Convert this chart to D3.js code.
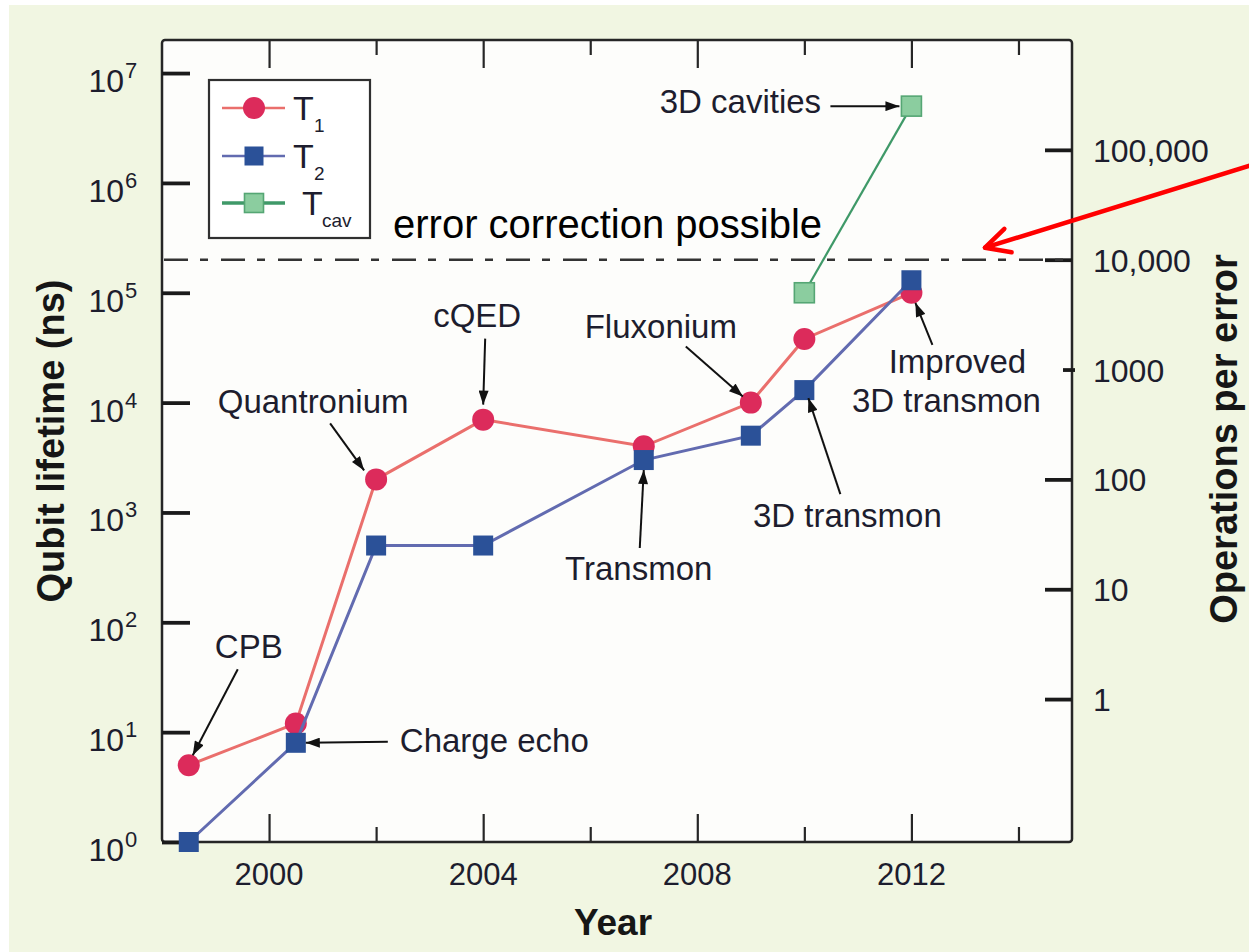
<!DOCTYPE html>
<html>
<head>
<meta charset="utf-8">
<script src="https://cdn.jsdelivr.net/npm/d3@7"></script>
<style>
  html, body { margin: 0; padding: 0; background: #ffffff; }
  svg { display: block; font-family: "Liberation Sans", Arial, Helvetica, sans-serif; }
</style>
</head>
<body>
<svg id="chart" width="1249" height="952"></svg>
<script>
// Coherence times of superconducting qubits by year (ns)
const t1Years  = [1998.5, 2000.5, 2002, 2004, 2007, 2009, 2010, 2012];
const t1Values = [5, 12, 2000, 7000, 4000, 10000, 38000, 100000];
const t2Years  = [1998.5, 2000.5, 2002, 2004, 2007, 2009, 2010, 2012];
const t2Values = [1, 8, 500, 500, 3000, 5000, 13000, 130000];
const cavYears  = [2010, 2012];
const cavValues = [100000, 5000000];

// Axis ticks
const xMajorTicks = [2000, 2004, 2008, 2012];
const xMinorTicks = [2002, 2006, 2010, 2014];
const leftExponents = [0, 1, 2, 3, 4, 5, 6, 7];
const rightTicks = [1, 10, 100, 1000, 10000, 100000];
const rightTickLabels = ["1", "10", "100", "1000", "10,000", "100,000"];

// Lifetime per operation (ns): operations per error = lifetime / gateTime
const gateTime = 20;
const thresholdOps = 10000;

// Annotated milestones
const annotationLabels = ["CPB", "Charge echo", "Quantronium", "cQED", "Transmon",
                          "Fluxonium", "3D transmon", "Improved|3D transmon", "3D cavities"];

const svg = d3.select("#chart");
const W = 1249, H = 952;
const plot = { left: 162, top: 40, right: 1072, bottom: 842 };

const x = d3.scaleLinear().domain([1998, 2015]).range([plot.left, plot.right]);
const y = d3.scaleLog().domain([1, 2e7]).range([plot.bottom, plot.top]);
const yOps = d3.scaleLog().domain([1 / gateTime, 2e7 / gateTime]).range([plot.bottom, plot.top]);

const textColor = "#1d1d2e";
const axisColor = "#262626";

// page background
svg.append("rect").attr("x", 0).attr("y", 0).attr("width", W).attr("height", H).attr("fill", "#ffffff");
svg.append("rect").attr("x", 9).attr("y", 5).attr("width", W - 9).attr("height", H - 5).attr("fill", "#f1f6e2");

// plot panel
svg.append("rect")
  .attr("x", plot.left).attr("y", plot.top)
  .attr("width", plot.right - plot.left).attr("height", plot.bottom - plot.top)
  .attr("rx", 3)
  .attr("fill", "#fdfdfb").attr("stroke", axisColor).attr("stroke-width", 2.5);

// x ticks (bottom and top, pointing inward)
function xTicks(values, len, pos) {
  const ax = (pos === "bottom" ? d3.axisBottom(x) : d3.axisTop(x))
    .tickValues(values).tickSizeInner(-len).tickSizeOuter(0).tickFormat("");
  const g = svg.append("g")
    .attr("transform", `translate(0,${pos === "bottom" ? plot.bottom : plot.top})`)
    .call(ax);
  g.select(".domain").remove();
  g.selectAll(".tick line").attr("stroke", axisColor).attr("stroke-width", 2.2);
  return g;
}
xTicks(xMajorTicks, 28, "bottom");
xTicks(xMinorTicks, 15, "bottom");
xTicks(xMajorTicks, 28, "top");
xTicks(xMinorTicks, 15, "top");

svg.append("g").selectAll("text").data(xMajorTicks).join("text")
  .attr("x", d => x(d)).attr("y", plot.bottom + 43)
  .attr("text-anchor", "middle").attr("font-size", 31).attr("fill", textColor)
  .text(d => d);

// left axis: lifetime
const gl = svg.append("g").attr("transform", `translate(${plot.left},0)`)
  .call(d3.axisLeft(y).tickValues(leftExponents.map(e => Math.pow(10, e)))
    .tickSizeInner(-28).tickSizeOuter(0).tickFormat(""));
gl.select(".domain").remove();
gl.selectAll(".tick line").attr("stroke", "#1a1a1a").attr("stroke-width", 3.8);

const leftLabels = svg.append("g").selectAll("g").data(leftExponents).join("g")
  .attr("transform", e => `translate(0,${y(Math.pow(10, e))})`);
leftLabels.append("text")
  .attr("x", 124).attr("y", 19).attr("text-anchor", "end")
  .attr("font-size", 32).attr("fill", textColor).text("10");
leftLabels.append("text")
  .attr("x", 125).attr("y", 5)
  .attr("font-size", 22).attr("fill", textColor).text(e => e);

// right axis: operations per error
const gr = svg.append("g").attr("transform", `translate(${plot.right},0)`)
  .call(d3.axisRight(yOps).tickValues(rightTicks)
    .tickSizeInner(-27).tickSizeOuter(0).tickFormat(""));
gr.select(".domain").remove();
gr.selectAll(".tick line").attr("stroke", "#1a1a1a").attr("stroke-width", 3.8)
  .filter(d => d === 1000).attr("x1", 3).attr("x2", -9);

svg.append("g").selectAll("text").data(rightTicks).join("text")
  .attr("x", plot.right + 21).attr("y", d => yOps(d) + 12)
  .attr("font-size", 32).attr("fill", textColor)
  .text((d, i) => rightTickLabels[i]);

// axis titles
svg.append("text")
  .attr("transform", `translate(64,${(plot.top + plot.bottom) / 2}) rotate(-90)`)
  .attr("text-anchor", "middle").attr("font-size", 38).attr("font-weight", "bold").attr("fill", "#161616")
  .text("Qubit lifetime (ns)");
svg.append("text")
  .attr("transform", `translate(1237,439) rotate(-90)`)
  .attr("text-anchor", "middle").attr("font-size", 38).attr("font-weight", "bold").attr("fill", "#161616")
  .text("Operations per error");
svg.append("text")
  .attr("x", 613).attr("y", 935)
  .attr("text-anchor", "middle").attr("font-size", 37).attr("font-weight", "bold").attr("fill", "#161616")
  .text("Year");

// error-correction threshold
const thrY = yOps(thresholdOps);
svg.append("line")
  .attr("x1", plot.left + 2).attr("x2", plot.right - 2)
  .attr("y1", thrY).attr("y2", thrY)
  .attr("stroke", "#333333").attr("stroke-width", 2.6)
  .attr("stroke-dasharray", "24,12,8,13");
svg.append("text")
  .attr("x", 393).attr("y", thrY - 22)
  .attr("font-size", 40).attr("fill", "#000000")
  .text("error correction possible");

// series
const colors = {
  t1Line: "#ea6f6c", t1Mark: "#dc2b5b",
  t2Line: "#626bb0", t2Mark: "#2b5198",
  cavLine: "#3f9968", cavFill: "#8bcd9f", cavStroke: "#55a674"
};
const line = d3.line().x(d => x(d[0])).y(d => y(d[1]));
const t1 = d3.zip(t1Years, t1Values);
const t2 = d3.zip(t2Years, t2Values);
const cav = d3.zip(cavYears, cavValues);

svg.append("path").datum(t1).attr("d", line)
  .attr("fill", "none").attr("stroke", colors.t1Line).attr("stroke-width", 3);
svg.append("g").selectAll("circle").data(t1).join("circle")
  .attr("cx", d => x(d[0])).attr("cy", d => y(d[1])).attr("r", 11)
  .attr("fill", colors.t1Mark);

svg.append("path").datum(t2).attr("d", line)
  .attr("fill", "none").attr("stroke", colors.t2Line).attr("stroke-width", 3);
const sq = 20;
svg.append("g").selectAll("rect").data(t2).join("rect")
  .attr("x", d => x(d[0]) - sq / 2).attr("y", d => y(d[1]) - sq / 2)
  .attr("width", sq).attr("height", sq)
  .attr("fill", colors.t2Mark);

svg.append("path").datum(cav).attr("d", line)
  .attr("fill", "none").attr("stroke", colors.cavLine).attr("stroke-width", 2.2);
svg.append("g").selectAll("rect").data(cav).join("rect")
  .attr("x", d => x(d[0]) - sq / 2).attr("y", d => y(d[1]) - sq / 2)
  .attr("width", sq).attr("height", sq)
  .attr("fill", colors.cavFill).attr("stroke", colors.cavStroke).attr("stroke-width", 1.6);

// annotation arrows and labels, placed relative to the marker they point at
svg.append("defs").append("marker")
  .attr("id", "head").attr("viewBox", "0 0 14 10")
  .attr("refX", 14).attr("refY", 5)
  .attr("markerWidth", 15).attr("markerHeight", 10)
  .attr("markerUnits", "userSpaceOnUse").attr("orient", "auto")
  .append("path").attr("d", "M0,0 L14,5 L0,10 Z").attr("fill", "#111111");

const annotations = [
  { point: t1[0], tip: [4, -10],  tail: [49, -96],  label: [60, -107],  anchor: "middle" },
  { point: t2[1], tip: [10, 0],   tail: [92, -1],   label: [104, 9],    anchor: "start" },
  { point: t1[2], tip: [-12, -9], tail: [-46, -56], label: [-63, -66],  anchor: "middle" },
  { point: t1[3], tip: [0, -15],  tail: [2, -81],   label: [-6, -93],   anchor: "middle" },
  { point: t2[4], tip: [0, 10],   tail: [-4, 88],   label: [-5, 120],   anchor: "middle" },
  { point: t1[5], tip: [-8, -6],  tail: [-65, -56], label: [-90, -65],  anchor: "middle" },
  { point: t2[6], tip: [4, 8],    tail: [36, 104],  label: [43, 137],   anchor: "middle" },
  { point: t1[7], tip: [4, 10],   tail: [21, 52],   label: [46, 80],    anchor: "middle", label2: [35, 119] },
  { point: cav[1], tip: [-12, 0], tail: [-81, 0],   label: [-171, 7],   anchor: "middle" }
];
annotations.forEach((a, i) => {
  const px = x(a.point[0]), py = y(a.point[1]);
  svg.append("line")
    .attr("x1", px + a.tail[0]).attr("y1", py + a.tail[1])
    .attr("x2", px + a.tip[0]).attr("y2", py + a.tip[1])
    .attr("stroke", "#111111").attr("stroke-width", 2)
    .attr("marker-end", "url(#head)");
  const lines = annotationLabels[i].split("|");
  svg.append("text")
    .attr("x", px + a.label[0]).attr("y", py + a.label[1])
    .attr("text-anchor", a.anchor).attr("font-size", 33).attr("fill", textColor)
    .text(lines[0]);
  if (lines[1]) {
    svg.append("text")
      .attr("x", px + a.label2[0]).attr("y", py + a.label2[1])
      .attr("text-anchor", a.anchor).attr("font-size", 33).attr("fill", textColor)
      .text(lines[1]);
  }
});

// red pointer to the threshold line
const redTip = [985, thrY - 12], redTail = [1252, 165];
svg.append("line")
  .attr("x1", redTail[0]).attr("y1", redTail[1]).attr("x2", redTip[0]).attr("y2", redTip[1])
  .attr("stroke", "#ff0000").attr("stroke-width", 4.5).attr("stroke-linecap", "round");
{
  const ang = Math.atan2(redTail[1] - redTip[1], redTail[0] - redTip[0]);
  const wing = 27, spread = 27 * Math.PI / 180;
  const p1 = [redTip[0] + wing * Math.cos(ang - spread), redTip[1] + wing * Math.sin(ang - spread)];
  const p2 = [redTip[0] + wing * Math.cos(ang + spread), redTip[1] + wing * Math.sin(ang + spread)];
  svg.append("path")
    .attr("d", `M${p1[0]},${p1[1]} L${redTip[0]},${redTip[1]} L${p2[0]},${p2[1]}`)
    .attr("fill", "none").attr("stroke", "#ff0000").attr("stroke-width", 4.5)
    .attr("stroke-linecap", "round").attr("stroke-linejoin", "round");
}

// legend
const legend = svg.append("g");
legend.append("rect").attr("x", 209).attr("y", 80).attr("width", 161).attr("height", 158)
  .attr("fill", "#ffffff").attr("stroke", "#303030").attr("stroke-width", 2.2);
const rows = [108, 156, 203];
const legendItems = [
  { line: colors.t1Line, w: 2.5, sym: "circle", fill: colors.t1Mark, sub: "1", tx: 293, sx: 314 },
  { line: colors.t2Line, w: 2.5, sym: "square", fill: colors.t2Mark, sub: "2", tx: 293, sx: 314 },
  { line: colors.cavLine, w: 3.5, sym: "square", fill: colors.cavFill, stroke: colors.cavStroke, sub: "cav", tx: 302, sx: 322 }
];
legendItems.forEach((it, i) => {
  const ry = rows[i];
  legend.append("line").attr("x1", 222).attr("x2", 285).attr("y1", ry).attr("y2", ry)
    .attr("stroke", it.line).attr("stroke-width", it.w);
  if (it.sym === "circle") {
    legend.append("circle").attr("cx", 254).attr("cy", ry).attr("r", 11).attr("fill", it.fill);
  } else {
    legend.append("rect").attr("x", 254 - 9.5).attr("y", ry - 9.5).attr("width", 19).attr("height", 19)
      .attr("fill", it.fill).attr("stroke", it.stroke || "none").attr("stroke-width", 1.6);
  }
  legend.append("text").attr("x", it.tx).attr("y", ry + 12)
    .attr("font-size", 34).attr("fill", textColor).text("T");
  legend.append("text").attr("x", it.sx).attr("y", ry + 24)
    .attr("font-size", 19).attr("fill", textColor).text(it.sub);
});
</script>
</body>
</html>
